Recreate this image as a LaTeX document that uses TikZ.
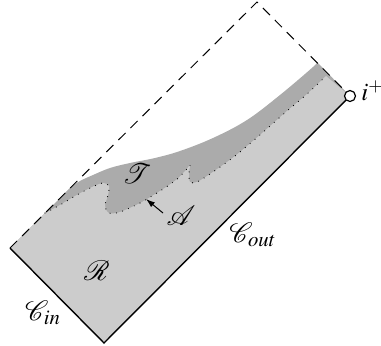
\documentclass[tikz,border=0pt]{standalone}
\usepackage{mathptmx}
\usetikzlibrary{arrows.meta}
\definecolor{lightreg}{gray}{0.80}
\definecolor{darkreg}{gray}{0.67}
\tikzset{
  lbl/.style={inner sep=0pt, font=\fontsize{14}{16}\selectfont},
  edge/.style={line width=0.7pt},
  nullinf/.style={line width=0.5pt, dash pattern=on 5pt off 3.5pt},
  apparent/.style={line width=0.6pt, line cap=round, dash pattern=on 0pt off 3.2pt},
  pointer/.style={line width=0.5pt, -{Latex[length=4.5pt,width=3pt]}}
}
\begin{document}
\begin{tikzpicture}[x=0.5pt,y=-0.5pt]
\useasboundingbox (0,0) rectangle (381,345);
\coordinate (L) at (10,248);
\coordinate (B) at (104,343);
\coordinate (R) at (350,96);
\coordinate (T) at (257,2);
% union region (dark)
\fill[darkreg] (L) -- plot[smooth, tension=0.6] coordinates {(60,198) (70,188) (80,181) (93,175) (110,168) (130,163) (155,158) (180,151) (213,138) (247,120) (280,95) (313,67) (317,62)} -- (R) -- (B) -- cycle;
% light region below apparent horizon
\fill[lightreg] plot[smooth, tension=0.5] coordinates {(45,213) (60,205) (75,196) (92,187) (103,183) (109,186) (108,195) (105,206) (109,213) (120,212) (140,203) (160,191) (176,180) (186,170) (190,165) (189,173) (190,182) (197,182) (210,174) (235,156) (261,134) (287,111) (307,94) (326,76)} -- (R) -- (B) -- (L) -- cycle;
% apparent horizon
\draw[apparent] plot[smooth, tension=0.5] coordinates {(45,213) (60,205) (75,196) (92,187) (103,183) (109,186) (108,195) (105,206) (109,213) (120,212) (140,203) (160,191) (176,180) (186,170) (190,165) (189,173) (190,182) (197,182) (210,174) (235,156) (261,134) (287,111) (307,94) (326,76)};
% boundaries
\draw[edge] (L) -- (B) -- (R);
\draw[nullinf] (L) -- (T) -- (R);
\node[circle, draw, fill=white, line width=0.6pt, minimum size=5.5pt, inner sep=0pt] (ip) at (R) {};
% labels
\node[lbl] (lT) at (137,174) {$\mathcal{T}$};
\node[lbl] (lR) at (97,271) {$\mathcal{R}$};
\node[lbl] (lA) at (181,216) {$\mathcal{A}$};
\node[lbl] (lCin) at (43,313) {$\mathcal{C}_{in}$};
\node[lbl] (lCout) at (253,235) {$\mathcal{C}_{out}$};
\node[lbl, anchor=west, font=\fontsize{12.5}{14}\selectfont] (lip) at (361,91) {$i^+$};
\coordinate (atail) at (163,213);
\coordinate (ahead) at (146,199);
\draw[pointer] (atail) -- (ahead);
\end{tikzpicture}
\end{document}
